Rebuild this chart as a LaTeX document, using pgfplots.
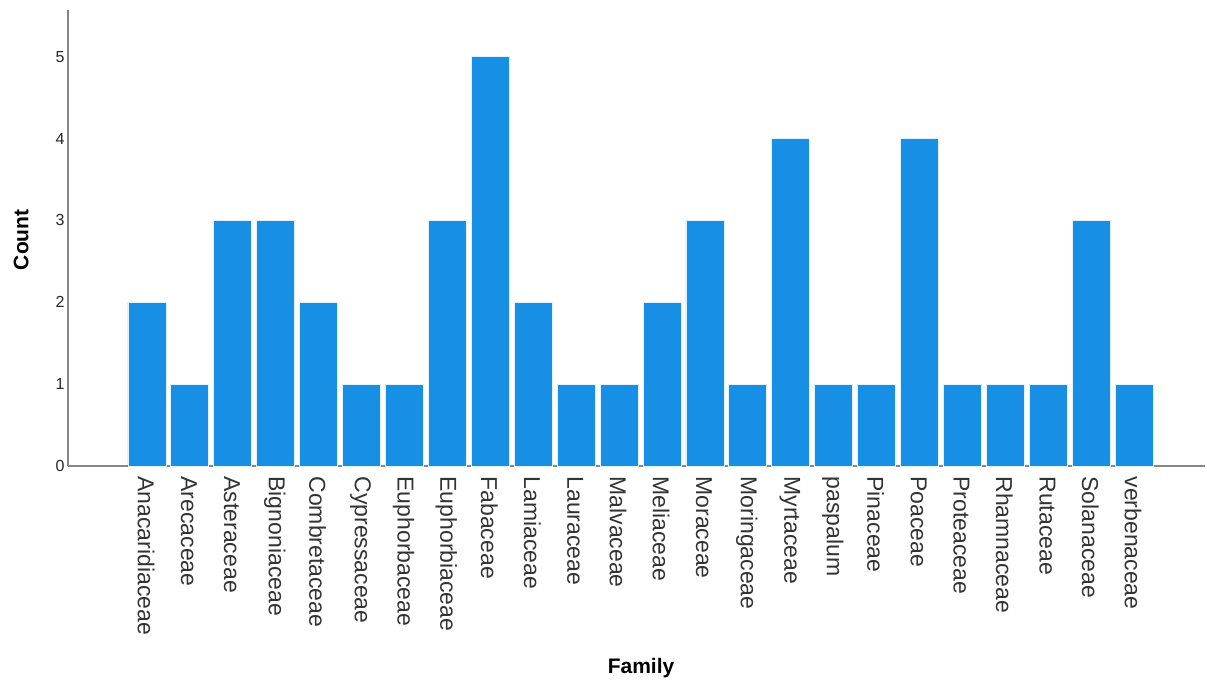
\documentclass[border=0pt]{standalone}
\usepackage{pgfplots}
\pgfplotsset{compat=1.18}
\usepackage{fontspec}
\setmainfont{Liberation Sans}
\definecolor{barblue}{RGB}{22,143,229}
\definecolor{baredge}{RGB}{225,242,255}
\definecolor{axgray}{RGB}{135,135,135}
\begin{document}
\begin{tikzpicture}
\path[use as bounding box] (-68bp,-216bp) rectangle (1139bp,466bp);
\begin{axis}[
  at={(0,0)}, anchor=south west,
  scale only axis, width=1137bp, height=456bp,
  xmin=-1.84, xmax=24.65, ymin=0, ymax=5.57,
  axis x line*=bottom, axis y line*=left,
  axis line style={axgray, line width=1.3bp, -},
  xtick={0,...,23},
  xticklabels={Anacaridiaceae,Arecaceae,Asteraceae,Bignoniaceae,Combretaceae,Cypressaceae,Euphorbaceae,Euphorbiaceae,Fabaceae,Lamiaceae,Lauraceae,Malvaceae,Meliaceae,Moraceae,Moringaceae,Myrtaceae,paspalum,Pinaceae,Poaceae,Proteaceae,Rhamnaceae,Rutaceae,Solanaceae,verbenaceae},
  ytick={0,...,5},
  major tick length=0,
  x tick label style={rotate=-90, anchor=west, xshift=7bp, yshift=-1bp, font=\fontsize{23bp}{26bp}\selectfont, text=black!80},
  y tick label style={font=\fontsize{16bp}{19bp}\selectfont, text=black!85},
  /pgf/number format/assume math mode=true,
  xlabel={\bfseries Family},
  ylabel={\bfseries Count},
  xlabel style={at={(axis description cs:0.504,-0.443)}, anchor=center, font=\fontsize{21bp}{24bp}\selectfont},
  ylabel style={at={(axis description cs:-0.0413,0.496)}, anchor=center, font=\fontsize{21bp}{24bp}\selectfont},
  clip=false,
]
\addplot[ybar, bar width=38bp, fill=barblue, draw=baredge, line width=0.9bp] table[x=x, y=y] {
x y
0 2
1 1
2 3
3 3
4 2
5 1
6 1
7 3
8 5
9 2
10 1
11 1
12 2
13 3
14 1
15 4
16 1
17 1
18 4
19 1
20 1
21 1
22 3
23 1
};
\end{axis}
\end{tikzpicture}
\end{document}
